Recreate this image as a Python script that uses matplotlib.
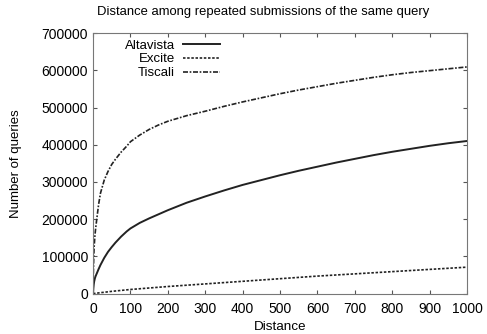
import matplotlib
matplotlib.use('Agg')
import matplotlib.pyplot as plt

# data
distance = [0, 1, 2, 3, 5, 7, 10, 15, 20, 30, 40, 50, 60, 75, 90, 100, 125, 150, 175, 200, 250,
            300, 350, 400, 450, 500, 550, 600, 650, 700, 750, 800, 850, 900, 950, 1000]
altavista = [0, 15000, 25000, 32000, 41000, 47000, 54000, 66000, 77000, 96000, 112000, 125000, 137000,
             153000, 167000, 175000, 190000, 202000, 213000, 224000, 244000,
             261000, 277000, 292000, 305000, 318000, 330000, 341000, 352000, 362000, 372000,
             381000, 389000, 397000, 404000, 410000]
excite = [0, 100, 200, 300, 500, 700, 1200, 1800, 2500, 3500, 4800, 6000, 7000, 8500, 10000, 11000,
          13000, 15000, 17000, 19000, 22500, 26000, 29500, 33000, 36500, 40000, 43500, 47000,
          50000, 53000, 56000, 59000, 62000, 65000, 68000, 71000]
tiscali = [0, 60000, 100000, 125000, 155000, 175000, 200000, 240000, 270000, 305000, 328000, 347000, 361000,
           380000, 396000, 408000, 426000, 441000, 453000, 463000, 478000,
           490000, 503000, 515000, 526000, 537000, 547000, 556000, 565000, 573000, 581000,
           588000, 594000, 599000, 604000, 609000]

plt.rcParams['font.family'] = ['Liberation Sans', 'DejaVu Sans']

fig = plt.figure(figsize=(4.87, 3.34), dpi=100)
ax = fig.add_axes([0.191, 0.121, 0.768, 0.780])

ax.plot(distance, altavista, color='#222222', lw=1.4, linestyle='-', label='Altavista')
ax.plot(distance, excite, color='#222222', lw=1.2, linestyle=(0, (1.5, 1)), label='Excite')
ax.plot(distance, tiscali, color='#222222', lw=1.2, linestyle=(0, (3, 1, 1, 1)), label='Tiscali')

ax.set_xlim(0, 1000)
ax.set_ylim(0, 700000)
ax.set_xticks(range(0, 1001, 100))
ax.set_yticks(range(0, 700001, 100000))
ax.tick_params(direction='in', top=True, right=True, labelsize=10, length=3, color='#555555')
ax.tick_params(axis='x', pad=6)
for s in ax.spines.values():
    s.set_color('#777777')

ax.set_xlabel('Distance', fontsize=9.7, labelpad=4)
ax.set_ylabel('Number of queries', fontsize=9.5)
ax.yaxis.set_label_coords(-0.19, 0.5)
fig.text(0.541, 0.963, 'Distance among repeated submissions of the same query',
         fontsize=9.4, ha='center', va='center')

ax.legend(loc='upper right', bbox_to_anchor=(0.462, 0.898), bbox_transform=fig.transFigure,
          frameon=False, markerfirst=False, fontsize=9.5, handlelength=2.8, labelspacing=0.12,
          handletextpad=0.6, borderaxespad=0)

plt.savefig('out.png', dpi=100)
